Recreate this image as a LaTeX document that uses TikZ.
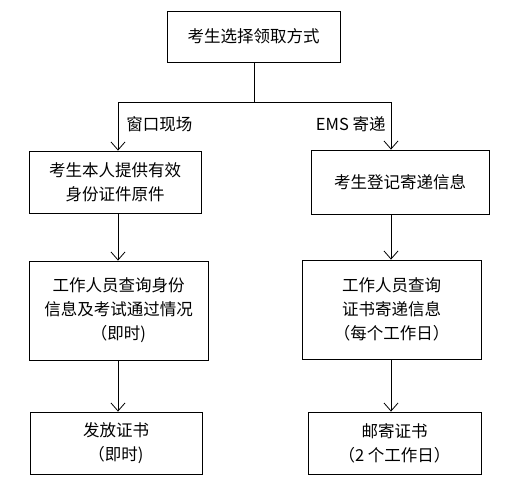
\documentclass[tikz,border=0pt]{standalone}
\usepackage{fontspec}
\setmainfont{Noto Sans CJK SC}
\usepackage{tikz}
\usetikzlibrary{
  arrows.meta}

\begin{document}
\begin{tikzpicture}[x=1pt,y=-1pt,line width=0.8pt]
\useasboundingbox (0,0) rectangle (506,487);
\tikzset{
  stepbox/.style={draw,align=center,inner sep=0pt,font=\fontsize{16.5}{24}\selectfont},
  flow/.style={-{Straight Barb[length=8pt,width=14pt]}},
  branch label/.style={font=\fontsize{16.5}{20}\selectfont,inner sep=0pt}
}
\node[stepbox,minimum width=173,minimum height=51] (choose) at (253.5,36.5) {考生选择领取方式};
\node[stepbox,minimum width=172,minimum height=62] (idcard) at (115,182) {考生本人提供有效\\身份证件原件};
\node[stepbox,minimum width=178,minimum height=64] (register) at (400,182) {考生登记寄递信息};
\node[stepbox,minimum width=179,minimum height=99] (checkid) at (118.5,310.5) {工作人员查询身份\\信息及考试通过情况\\（即时)};
\node[stepbox,minimum width=179,minimum height=99] (checkmail) at (391.5,309.5) {工作人员查询\\证书寄递信息\\（每个工作日）};
\node[stepbox,minimum width=172,minimum height=62] (issue) at (116,443) {发放证书\\（即时)};
\node[stepbox,minimum width=173,minimum height=62] (post) at (394.5,443) {邮寄证书\\（2 个工作日）};
\coordinate (split) at (254,102);
\coordinate (window) at (118,102);
\coordinate (ems) at (391,102);
\draw (choose.south -| split) -- (split);
\draw (window) -- (ems);
\draw[flow] (window) -- (idcard.north -| window);
\draw[flow] (ems) -- (register.north -| ems);
\draw[flow] (idcard.south -| window) -- (checkid.north -| window);
\draw[flow] (register.south -| ems) -- (checkmail.north -| ems);
\draw[flow] (checkid.south -| window) -- (issue.north -| window);
\draw[flow] (checkmail.south -| ems) -- (post.north -| ems);
\node[branch label,anchor=west] (windowlabel) at (126,124) {窗口现场};
\node[branch label,anchor=east] (emslabel) at (386,124) {EMS 寄递};
\end{tikzpicture}
\end{document}
